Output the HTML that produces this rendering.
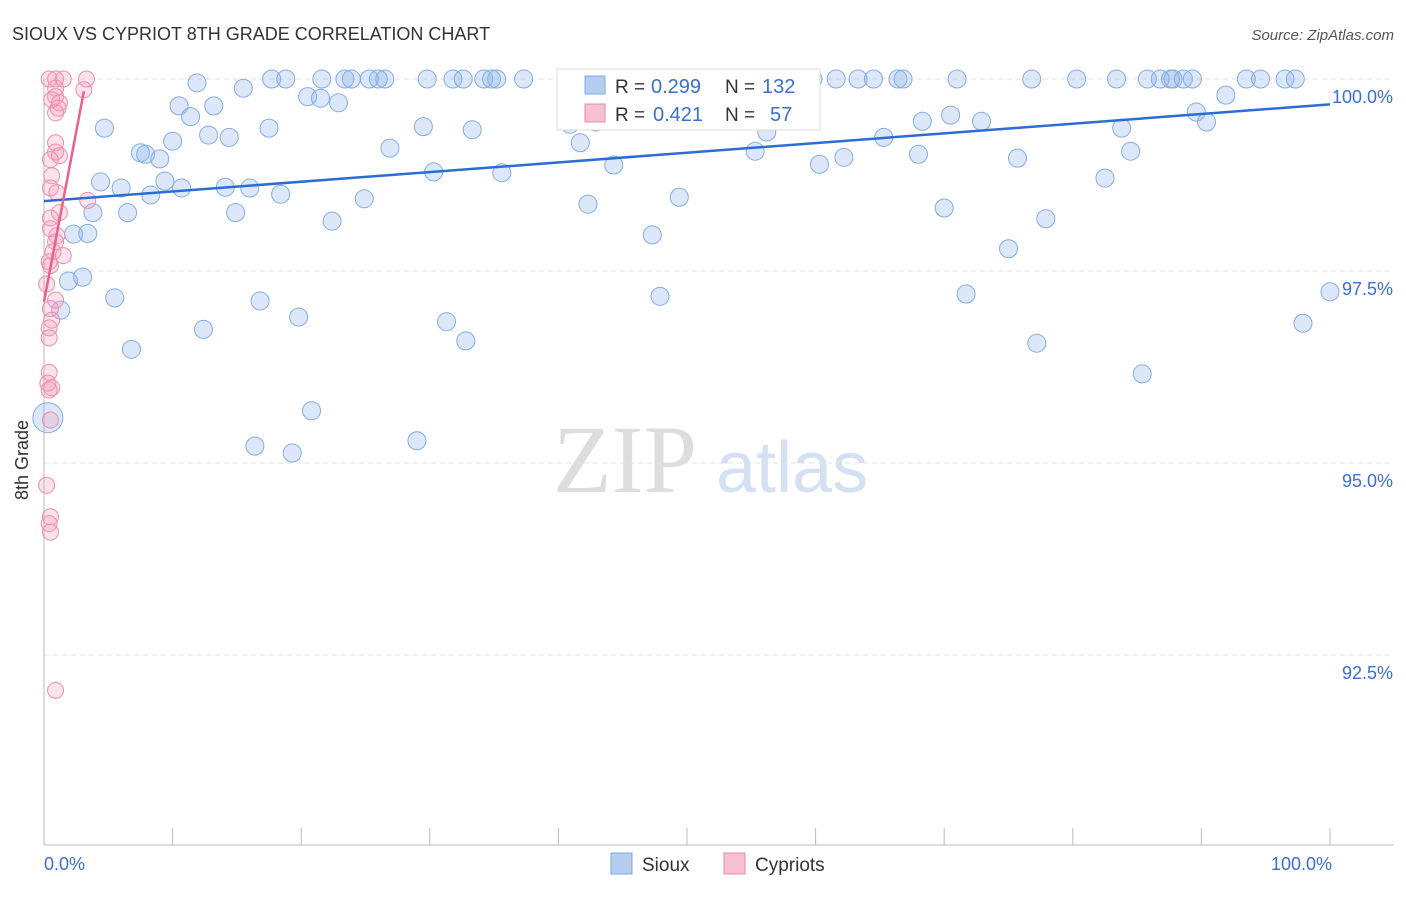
<!DOCTYPE html>
<html><head><meta charset="utf-8"><style>
body{margin:0;background:#fff;font-family:"Liberation Sans",sans-serif;}
svg text{font-family:"Liberation Sans",sans-serif;}
</style></head><body>
<svg id="chart" width="1406" height="892" xmlns="http://www.w3.org/2000/svg">
<text x="12" y="40" font-size="18" fill="#333">SIOUX VS CYPRIOT 8TH GRADE CORRELATION CHART</text>
<text x="1394" y="40" font-size="15" fill="#555" font-style="italic" text-anchor="end">Source: ZipAtlas.com</text>
<g>
<text x="553" y="492" font-size="96" fill="#ddd" style="font-family:'Liberation Serif',serif">ZIP</text>
<text x="716" y="492" font-size="72" fill="#d3e1f3">atlas</text>
</g>
<g id="grid"></g>
<g id="axes"></g>
<g id="pts"></g>
<g id="trends"></g>
<text x="28" y="460" font-size="18" fill="#333" transform="rotate(-90 28 460)" text-anchor="middle">8th Grade</text>
<g>
<rect x="557" y="69" width="263" height="61" fill="#fff" stroke="#ddd"/>
<rect x="585" y="76" width="20" height="18" fill="#b5cdf0" stroke="#7fa8e0"/>
<rect x="585" y="104" width="20" height="18" fill="#f7c0d0" stroke="#e88aa8"/>
<text x="615" y="93" font-size="19" fill="#333">R =</text>
<text x="651" y="93" font-size="20" fill="#3a6fd1">0.299</text>
<text x="725" y="93" font-size="19" fill="#333">N =</text>
<text x="762" y="93" font-size="20" fill="#3a6fd1">132</text>
<text x="615" y="121" font-size="19" fill="#333">R =</text>
<text x="653" y="121" font-size="20" fill="#3a6fd1">0.421</text>
<text x="725" y="121" font-size="19" fill="#333">N =</text>
<text x="770" y="121" font-size="20" fill="#3a6fd1">57</text>
</g>
<g>
<rect x="611" y="853" width="21" height="21" fill="#b5cdf0" stroke="#7fa8e0"/>
<text x="642" y="871" font-size="19" fill="#333">Sioux</text>
<rect x="724" y="853" width="21" height="21" fill="#f7c0d0" stroke="#e88aa8"/>
<text x="755" y="871" font-size="19" fill="#333">Cypriots</text>
</g>
</svg>
<script>
const yTicks=[100,97.5,95,92.5];
const yTickLabels=["100.0%","97.5%","95.0%","92.5%"];
const xTickLabels=["0.0%","100.0%"];
const siouxX=[11.9,17.7,18.8,21.6,23.4,23.9,25.3,26.0,26.5,29.8,31.8,32.6,34.2,34.8,35.2,37.3,41.1,42.8,46.0,48.0,50.2,50.7,51.9,59.8,61.6,63.3,64.5,66.4,66.8,71.0,76.8,80.3,83.4,85.8,86.8,87.6,87.8,88.6,89.3,93.5,94.6,96.5,97.3,
15.5,20.5,21.5,22.9,91.9,10.5,13.2,11.4,4.7,17.5,29.5,33.3,40.9,42.9,89.6,90.4,70.5,72.9,68.3,83.8,56.2,12.8,14.4,10.0,65.3,41.7,26.9,7.5,7.9,9.0,55.3,62.2,68.0,75.7,84.5,60.3,44.3,30.3,35.6,82.5,4.4,6.0,9.4,10.7,14.1,16.0,18.4,8.3,24.9,49.4,42.3,70.0,3.8,6.5,14.9,22.4,77.9,2.3,3.4,47.3,75.0,3.0,1.9,5.5,16.8,47.9,71.7,100,1.3,19.8,12.4,31.3,97.9,6.8,32.8,77.2,85.4,20.8,29.0,16.4,19.3,0.3];
const siouxY=[99.95,100,100,100,100,100,100,100,100,100,100,100,100,100,100,100,100,100,100,100,100,100,100,100,100,100,100,100,100,100,100,100,100,100,100,100,100,100,100,100,100,100,100,
99.88,99.77,99.75,99.69,99.79,99.65,99.65,99.51,99.36,99.36,99.38,99.34,99.41,99.44,99.57,99.44,99.53,99.45,99.45,99.36,99.31,99.27,99.24,99.19,99.24,99.17,99.10,99.04,99.02,98.96,99.06,98.98,99.02,98.97,99.06,98.89,98.88,98.79,98.78,98.71,98.66,98.58,98.67,98.58,98.59,98.58,98.50,98.49,98.44,98.46,98.37,98.32,98.26,98.26,98.26,98.15,98.18,97.98,97.99,97.97,97.79,97.42,97.37,97.15,97.11,97.17,97.20,97.23,96.99,96.90,96.74,96.84,96.82,96.48,96.59,96.56,96.16,95.68,95.29,95.22,95.13,95.59];
const cypX=[0.4,0.9,1.5,3.3,0.9,0.9,0.6,1.2,1.1,0.9,0.9,0.9,1.2,0.5,0.6,0.5,1.0,3.4,1.2,0.5,0.5,1.0,0.9,0.7,1.5,0.4,0.5,0.9,0.5,0.6,0.4,0.4,0.4,0.3,0.6,0.4,0.5,0.2,0.5,0.4,0.5,0.9,0.2,3.1];
const cypY=[100,100,100,100,99.88,99.77,99.73,99.69,99.62,99.56,99.17,99.05,99.00,98.95,98.74,98.58,98.52,98.42,98.26,98.19,98.05,97.96,97.88,97.75,97.70,97.62,97.57,97.12,97.01,96.86,96.76,96.63,96.18,96.04,95.98,95.95,95.56,94.71,94.30,94.21,94.10,92.04,97.33,99.86];
const siouxTrend=[98.41,99.67];
const cypTrend=[97.1,99.84];
const cypTrendX=[0,3.1];
const NS="http://www.w3.org/2000/svg";
const xs=v=>44+v*12.86;
const ys=v=>79+(100-v)*76.8;
function mk(tag,attrs,parent){const e=document.createElementNS(NS,tag);for(const k in attrs)e.setAttribute(k,attrs[k]);parent.appendChild(e);return e;}
const grid=document.getElementById('grid'),axes=document.getElementById('axes'),pts=document.getElementById('pts'),tr=document.getElementById('trends');
yTicks.forEach((t,i)=>{
 const l=mk('line',{x1:44,x2:1394,y1:ys(t),y2:ys(t),stroke:'#e2e2e2','stroke-dasharray':'5,4'},grid);
 
 
 const tx=mk('text',{x:1393,y:ys(t)+24,'font-size':18,fill:'#3a6fd1','text-anchor':'end'},axes);
 tx.textContent=yTickLabels[i];
 
 
});
const xa=mk('line',{x1:44,x2:1394,y1:845,y2:845,stroke:'#bbb'},axes);


const ya=mk('line',{x1:44,x2:44,y1:79,y2:845,stroke:'#bbb'},axes);


for(let i=0;i<=10;i++){const t=mk('line',{x1:xs(i*10),x2:xs(i*10),y1:828,y2:845,stroke:'#bbb'},axes);
 
 }
[[0,'start'],[100,'end']].forEach((p,i)=>{const t=mk('text',{x:xs(p[0])+(i?2:0),y:870,'font-size':18,fill:'#3a6fd1','text-anchor':p[1]},axes);t.textContent=xTickLabels[i];
 
 });
siouxX.forEach((x,i)=>{const c=mk('circle',{cx:xs(x),cy:ys(siouxY[i]),r:(i===siouxX.length-1?15:9),fill:'rgba(140,180,235,0.3)',stroke:'#85ace3','stroke-width':1},pts);
 
 });
cypX.forEach((x,i)=>{const c=mk('circle',{cx:xs(x),cy:ys(cypY[i]),r:8,fill:'rgba(245,160,190,0.3)',stroke:'#eb8fae','stroke-width':1},pts);
 
 });
const l1=mk('line',{x1:xs(0),y1:ys(siouxTrend[0]),x2:xs(100),y2:ys(siouxTrend[1]),stroke:'#2a6dd4','stroke-width':2.5},tr);


const l2=mk('line',{x1:xs(cypTrendX[0]),y1:ys(cypTrend[0]),x2:xs(cypTrendX[1]),y2:ys(cypTrend[1]),stroke:'#e8628d','stroke-width':2.5},tr);


</script>
</body></html>
